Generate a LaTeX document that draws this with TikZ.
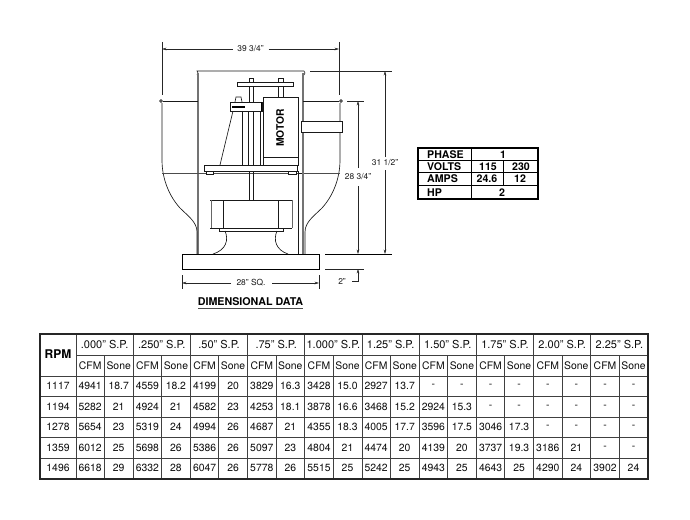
\documentclass[tikz,border=0pt]{standalone}
\usepackage{fontspec}
\setmainfont{TeX Gyre Heros}
\usetikzlibrary{arrows.meta}
\tikzset{
  ln/.style={line width=0.65pt,black!90},
  gry/.style={line width=1.1pt,black!55},
  thk/.style={line width=1pt,black},
  dim/.style={line width=0.6pt,black!85},
  dimarr/.style={dim,-{Stealth[length=4.5pt,width=2.6pt]}},
  dimlab/.style={inner sep=0pt,font=\fontsize{8.4}{10}\selectfont,text=black!90},
  cell/.style={inner sep=0pt,font=\fontsize{10.4}{12}\selectfont,text=black!95},
  head/.style={cell,font=\fontsize{11}{12}\selectfont},
  bcell/.style={inner sep=0pt,font=\bfseries\fontsize{10.6}{12}\selectfont},
  grid/.style={line width=0.8pt,black!75},
  frame/.style={line width=1.5pt,black!85}
}
\begin{document}
\begin{tikzpicture}[x=1pt,y=-1pt]
\useasboundingbox (0,0) rectangle (690,519);
\fill[white] (0,0) rectangle (690,519);
% --- dimension lines
\node[dimlab] (d39) at (250.5,49) {39 3/4"};
\coordinate (d39l) at (162,49); \coordinate (d39r) at (339,49);
\draw[dimarr] (d39) ++(-18,0) -- (d39l);
\draw[dimarr] (d39) ++(18,0) -- (d39r);
\draw[dim] (162,42) -- (162,95);
\draw[dim] (339,42) -- (339,95);
\node[dimlab] (d31) at (385,163) {31 1/2"};
\coordinate (d31t) at (385,71); \coordinate (d31b) at (385,254);
\draw[dimarr] (385,157) -- (d31t);
\draw[dimarr] (385,170) -- (d31b);
\draw[dim] (310,71) -- (392,71);
\node[dimlab] (d28) at (358,177) {28 3/4"};
\coordinate (d28t) at (358,101); \coordinate (d28b) at (358,254);
\draw[dimarr] (358,168) -- (d28t);
\draw[dimarr] (358,186) -- (d28b);
\draw[dim] (347,101) -- (364,101);
\draw[line width=0.8pt] (325,254) -- (392,254);
\draw[dim] (325,269) -- (364,269);
\node[dimlab] (d2) at (342,282) {2"};
\coordinate (d2t) at (358,269);
\draw[dimarr] (352,281) -- (358,281) -- (d2t);
\node[dimlab] (dsq) at (251,283) {28" SQ.};
\coordinate (dsql) at (182,283); \coordinate (dsqr) at (319,283);
\draw[dimarr] (231,283) -- (dsql);
\draw[dimarr] (272,283) -- (dsqr);
\draw[dim] (182,275) -- (182,289);
\draw[dim] (319,275) -- (319,289);
% --- housing
\draw[ln] (197,75) -- (198,73) -- (197,71) -- (304,71) -- (305,73) -- (304,75);
\draw[gry] (198,73) -- (198,254);
\draw[gry] (303,73) -- (303,173);
\draw[ln] (163,101) -- (198,101);
\draw[ln] (303,101) -- (339,101);
\draw[ln] (161,101) circle (1.4);
\draw[ln] (341,101) circle (1.4);
\draw[ln] (162,103) -- (162,160) .. controls (162,180) and (170,197) .. (180,208) .. controls (188,216) and (197,222) .. (197,232) -- (197,254);
\draw[ln] (340,103) -- (340,160) .. controls (340,180) and (332,197) .. (322,208) .. controls (314,216) and (305,222) .. (305,232) -- (305,254);
\draw[line width=0.6pt,black!70] (162,173) -- (340,173);
\draw[ln] (298,171) -- (298,254);
\draw[ln] (298,173) -- (303,173);
\draw[line width=1.6pt,black!55] (303,173) -- (303,254);
% --- base
\draw[thk] (182,254) rectangle (319,269);
% --- top plate, stems
\draw[ln,fill=white] (237,82) rectangle (293,86);
\draw[ln] (249,82) -- (249,78) -- (253,78) -- (253,82);
\draw[ln] (278,82) -- (278,78) -- (283,78) -- (283,82);
\draw[ln] (278,86) -- (278,97);
\draw[ln] (283,86) -- (283,97);
\draw[ln] (249,86) -- (249,102); \draw[ln] (253,86) -- (253,102);
\draw[ln] (248,111) -- (248,165); \draw[ln] (253,111) -- (253,165);
\draw[ln] (249,171) -- (249,200); \draw[ln] (253,171) -- (253,200);
% --- frame
\draw[ln] (242,111) -- (242,165);
\draw[ln] (260,111) -- (260,165);
\draw[ln] (233,111) -- (220,165);
\draw[ln] (235,102) -- (236,97) -- (241,97) -- (242,102);
\draw[ln,fill=white] (230,102) rectangle (262,111);
\draw[line width=1.3pt] (232,107) -- (245,107);
\draw[line width=1.2pt] (261.5,102) -- (261.5,111);
% --- motor
\draw[ln,fill=white] (263,97) rectangle (298,165);
\draw[ln] (263,157) -- (298,157);
\node[inner sep=0pt,rotate=90,font=\bfseries\fontsize{10.3}{12}\selectfont] (motor) at (280,128) {MOTOR};
% --- side box
\draw[ln,fill=white] (301,121) rectangle (342,132);
% --- motor plate and feet
\draw[ln,fill=white] (204,165) rectangle (297,171);
\draw[ln,fill=white] (206,171) rectangle (213,174);
\draw[ln,fill=white] (288,171) rectangle (296,174);
% --- wheel
\draw[ln] (210,200) -- (292,200);
\draw[ln] (210,228) -- (292,228);
\draw[line width=0.6pt,black!60] (211,200) -- (211,228);
\draw[line width=0.6pt,black!60] (292,200) -- (292,228);
\draw[ln] (223,200) -- (223,228);
\draw[ln] (278,200) -- (278,228);
\draw[ln] (219,228) rectangle (283,231);
\draw[ln] (225,231) .. controls (229,240) and (226,250) .. (213,254);
\draw[ln] (277,231) .. controls (273,240) and (276,250) .. (288,254);
% --- title
\node[inner sep=0pt,font=\bfseries\fontsize{10.7}{12}\selectfont] (title) at (250.5,302) {DIMENSIONAL DATA};
\draw[line width=0.9pt,black!70] (198,308) -- (303,308);
% --- electrical table
\draw[line width=1.2pt] (418,148) rectangle (538,199);
\draw[line width=0.9pt] (418,160.5) -- (538,160.5);
\draw[line width=0.9pt] (418,172.5) -- (538,172.5);
\draw[line width=0.9pt] (418,185.5) -- (538,185.5);
\draw[line width=0.9pt] (471,148) -- (471,199);
\draw[line width=0.9pt] (503.5,160.5) -- (503.5,185.5);
\node[bcell,anchor=west] (ph) at (427,154.5) {PHASE};
\node[bcell,anchor=west] (vo) at (427,166.5) {VOLTS};
\node[bcell,anchor=west] (am) at (427,179) {AMPS};
\node[bcell,anchor=west] (hp) at (427,192.5) {HP};
\node[bcell] (ph1) at (503,154.5) {1};
\node[bcell] (v1) at (488,166.5) {115};
\node[bcell] (v2) at (521,166.5) {230};
\node[bcell] (a1) at (487,179) {24.6};
\node[bcell] (a2) at (520,179) {12};
\node[bcell] (hp1) at (502,192.5) {2};
% --- performance table
\foreach \y in {376,396.5,417,437.5,458} \draw[grid] (40,\y) -- (648,\y);
\draw[grid] (76,355) -- (648,355);
\draw[grid] (76,334) -- (76,479);
\foreach \k in {1,...,9} \draw[grid] ({76+57.2*\k},334) -- ({76+57.2*\k},479);
\foreach \k in {0,...,9} \draw[grid] ({76+28.3+57.2*\k},355) -- ({76+28.3+57.2*\k},479);
\draw[frame] (40,334) rectangle (648,479);
\node[inner sep=0pt,font=\bfseries\fontsize{12}{13}\selectfont] (rpm) at (58,354.5) {RPM};
\foreach \h [count=\k from 0] in {.000,.250,.50,.75,1.000,1.25,1.50,1.75,2.00,2.25} {
  \node[head] (h\k) at ({76+28.6+57.2*\k},344.5) {\h" S.P.};
  \node[cell] (c\k) at ({76+14.2+57.2*\k},365.5) {CFM};
  \node[cell] (s\k) at ({76+42.7+57.2*\k},365.5) {Sone};
}
\foreach \r [count=\i from 0] in {
 {1117,4941,18.7,4559,18.2,4199,20,3829,16.3,3428,15.0,2927,13.7,-,-,-,-,-,-,-,-},
 {1194,5282,21,4924,21,4582,23,4253,18.1,3878,16.6,3468,15.2,2924,15.3,-,-,-,-,-,-},
 {1278,5654,23,5319,24,4994,26,4687,21,4355,18.3,4005,17.7,3596,17.5,3046,17.3,-,-,-,-},
 {1359,6012,25,5698,26,5386,26,5097,23,4804,21,4474,20,4139,20,3737,19.3,3186,21,-,-},
 {1496,6618,29,6332,28,6047,26,5778,26,5515,25,5242,25,4943,25,4643,25,4290,24,3902,24}} {
  \foreach \v [count=\j from 0] in \r {
    \pgfmathsetmacro{\cx}{\j==0 ? 58 : (mod(\j,2)==1 ? 76+14.2+57.2*(\j-1)/2 : 76+42.7+57.2*(\j-2)/2)}
    \pgfmathsetmacro{\cy}{386.3+20.4*\i}
    \node[cell] (t\i-\j) at (\cx,\cy) {\v};
  }
}
\end{tikzpicture}
\end{document}
